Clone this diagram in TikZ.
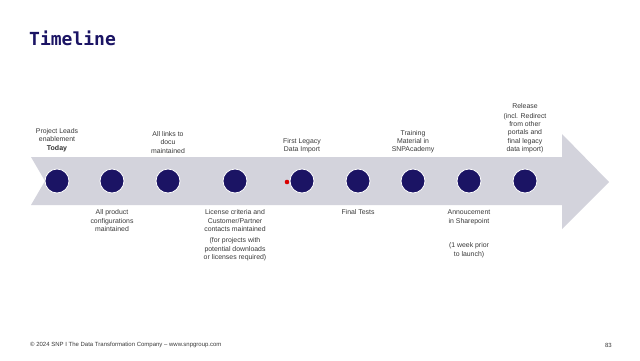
\documentclass[tikz,border=0pt]{standalone}
\usepackage{fontspec}
\setmainfont{Liberation Sans}
\newfontfamily\titlefont{DejaVu Sans Mono}
\definecolor{navy}{HTML}{1B1464}
\definecolor{band}{HTML}{D3D3DC}
\definecolor{txt}{HTML}{3A3A3A}
\tikzset{
  dot/.style={circle,fill=navy,draw=white,line width=0.8pt,minimum size=24pt,inner sep=0pt},
  lbl/.style={align=center,font=\fontsize{6.9}{8.3}\selectfont,text=txt,inner sep=0pt},
}
\begin{document}
\begin{tikzpicture}[x=1pt,y=-1pt]
\useasboundingbox[fill=white] (0,0) rectangle (640,360);
\node[anchor=west,font=\titlefont\bfseries\fontsize{18}{21}\selectfont,text=navy,inner sep=0pt] (title) at (29,38) {Timeline};
% arrow
\fill[band] (31,157) -- (562,157) -- (562,134) -- (609,182) -- (562,229) -- (562,205) -- (31,205) -- (45,181) -- cycle;
% dots
\foreach \i/\x in {1/57,2/112,3/168,4/235,5/302,6/358,7/413,8/469,9/525}
  \node[dot] (c\i) at (\x,181) {};
\fill[red!85!black] (287,182) circle (2.3);
% top labels
\node[lbl,anchor=south] (l1) at (57,142) {Project Leads\\enablement};
\node[lbl,anchor=north,font=\fontsize{7}{8.5}\selectfont\bfseries,text=black!80] (l1b) at (57,145.5) {Today};
\node[lbl,anchor=south] (l3) at (168,153.5) {All links to\\docu\\maintained};
\node[lbl,anchor=south] (l5) at (302,153) {First Legacy\\Data Import};
\node[lbl,anchor=south] (l7) at (413,153.5) {Training\\Material in\\SNPAcademy};
\node[lbl,anchor=south] (l9a) at (525,109) {Release};
\node[lbl,anchor=south] (l9) at (525,153) {(incl. Redirect\\from other\\portals and\\final legacy\\data import)};
% bottom labels
\node[lbl,anchor=north] (l2) at (112,209.5) {All product\\configurations\\maintained};
\node[lbl,anchor=north] (l4) at (235,209.5) {License criteria and\\Customer/Partner\\contacts maintained};
\node[lbl,anchor=north] (l4b) at (235,237.5) {(for projects with\\potential downloads\\or licenses required)};
\node[lbl,anchor=north] (l6) at (358,209.5) {Final Tests};
\node[lbl,anchor=north] (l8) at (469,209.5) {Annoucement};
\node[lbl,anchor=north] (l8b) at (469,218.5) {in Sharepoint};
\node[lbl,anchor=north] (l8c) at (469,242.5) {(1 week prior\\to launch)};
% footer
\node[anchor=west,font=\fontsize{6}{7}\selectfont,text=txt,inner sep=0pt] (foot) at (30,345) {© 2024 SNP I The Data Transformation Company – www.snpgroup.com};
\node[anchor=east,font=\fontsize{6}{7}\selectfont,text=txt,inner sep=0pt] (page) at (612,345) {83};
\end{tikzpicture}
\end{document}
